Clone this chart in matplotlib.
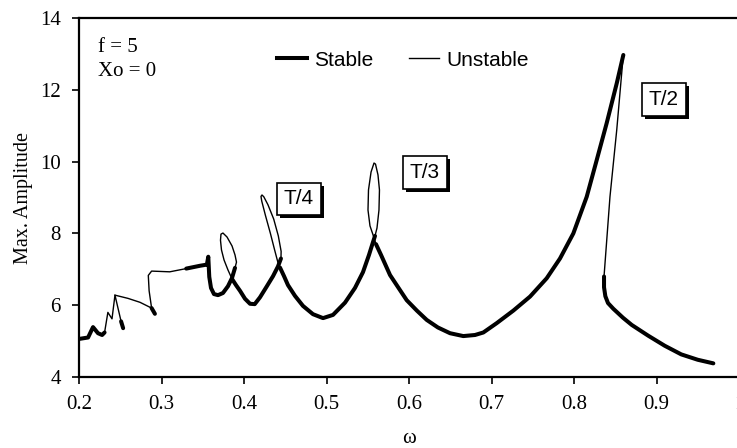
import matplotlib
matplotlib.use("Agg")
import matplotlib.pyplot as plt
import matplotlib.patheffects as pe
from matplotlib.lines import Line2D

# branches of the response curve (omega, max amplitude)
# stable = thick, unstable = thin
s1_w = [0.200, 0.211, 0.217, 0.223, 0.228, 0.231]
s1_a = [5.06, 5.10, 5.39, 5.22, 5.17, 5.24]

u1_w = [0.231, 0.235, 0.240, 0.2436, 0.2510]
u1_a = [5.24, 5.80, 5.62, 6.28, 5.55]
s1b_w = [0.2510, 0.2535]
s1b_a = [5.55, 5.36]

u2_w = [0.2436, 0.2594, 0.2740, 0.2880]
u2_a = [6.28, 6.19, 6.08, 5.92]
s2b_w = [0.2880, 0.2920]
s2b_a = [5.92, 5.76]

u3_w = [0.2880, 0.2850, 0.2840, 0.2880, 0.3100, 0.3300]
u3_a = [5.92, 6.40, 6.83, 6.95, 6.93, 7.02]

s2_w = [0.3300, 0.3470, 0.3550, 0.3567, 0.3579, 0.3600, 0.3636, 0.3685,
        0.3745, 0.3806, 0.3855, 0.3891]
s2_a = [7.02, 7.10, 7.13, 7.35, 6.79, 6.48, 6.31, 6.28,
        6.34, 6.53, 6.76, 7.04]

u4_w = [0.3891, 0.3909, 0.3891, 0.3855, 0.3794, 0.3745, 0.3721, 0.3715,
        0.3727, 0.3758, 0.3806, 0.3855]
u4_a = [7.04, 7.20, 7.40, 7.65, 7.90, 8.01, 7.98, 7.81,
        7.54, 7.26, 6.98, 6.73]

s3_w = [0.3855, 0.3903, 0.3952, 0.4012, 0.4073, 0.4130, 0.4194, 0.4275,
        0.4352, 0.4412, 0.4448]
s3_a = [6.73, 6.56, 6.40, 6.18, 6.04, 6.03, 6.22, 6.52,
        6.81, 7.08, 7.30]

u5_w = [0.4448, 0.4450, 0.4416, 0.4360, 0.4290, 0.4240, 0.4218, 0.4206,
        0.4215, 0.4260, 0.4320, 0.4370, 0.4410, 0.4436]
u5_a = [7.30, 7.50, 7.93, 8.40, 8.80, 9.02, 9.07, 9.03,
        8.90, 8.50, 8.00, 7.55, 7.20, 7.05]

s4_w = [0.4436, 0.4485, 0.4533, 0.4618, 0.4715, 0.4836, 0.4958, 0.5079,
        0.5224, 0.5345, 0.5442, 0.5515, 0.5564, 0.5588]
s4_a = [7.05, 6.81, 6.56, 6.26, 5.98, 5.75, 5.64, 5.73,
        6.07, 6.48, 6.92, 7.40, 7.76, 7.93]

u6_w = [0.5588, 0.5612, 0.5636, 0.5642, 0.5624, 0.5594, 0.5576, 0.5540,
        0.5509, 0.5503, 0.5527, 0.5564, 0.5600]
u6_a = [7.93, 8.15, 8.65, 9.21, 9.63, 9.93, 9.96, 9.71,
        9.21, 8.65, 8.21, 7.96, 7.70]

s5_w = [0.5600, 0.5661, 0.5770, 0.5891, 0.5972, 0.6095, 0.6215, 0.6350,
        0.6497, 0.6658, 0.6800, 0.6901, 0.7063, 0.7265, 0.7467, 0.7669,
        0.7830, 0.7992, 0.8154, 0.8275, 0.8396, 0.8518, 0.8598]
s5_a = [7.70, 7.40, 6.84, 6.42, 6.14, 5.85, 5.59, 5.38,
        5.22, 5.14, 5.17, 5.24, 5.50, 5.85, 6.24, 6.75,
        7.30, 8.00, 9.02, 10.04, 11.07, 12.18, 12.97]

u7_w = [0.8598, 0.8578, 0.8518, 0.8436, 0.8376, 0.8364]
u7_a = [12.97, 12.46, 10.88, 9.02, 7.17, 6.80]

s6_w = [0.8364, 0.8364, 0.8380, 0.8412, 0.8477, 0.8594, 0.8700, 0.8900,
        0.9100, 0.9300, 0.9500, 0.9689]
s6_a = [6.80, 6.50, 6.25, 6.06, 5.90, 5.65, 5.45, 5.15,
        4.87, 4.63, 4.48, 4.38]

stable = [(s1_w, s1_a), (s1b_w, s1b_a), (s2b_w, s2b_a), (s2_w, s2_a),
          (s3_w, s3_a), (s4_w, s4_a), (s5_w, s5_a), (s6_w, s6_a)]
unstable = [(u1_w, u1_a), (u2_w, u2_a), (u3_w, u3_a), (u4_w, u4_a),
            (u5_w, u5_a), (u6_w, u6_a), (u7_w, u7_a)]

x_ticks = [0.2, 0.3, 0.4, 0.5, 0.6, 0.7, 0.8, 0.9, 1.0]
x_tick_labels = ["0.2", "0.3", "0.4", "0.5", "0.6", "0.7", "0.8", "0.9", "1"]
y_ticks = [4, 6, 8, 10, 12, 14]

period_labels = ["T/4", "T/3", "T/2"]
period_w = [0.4667, 0.6194, 0.9087]
period_a = [8.96, 9.69, 11.74]

serif = "Liberation Serif"
sans = "Liberation Sans"

fig = plt.figure(figsize=(7.37, 4.48), dpi=100)
ax = fig.add_axes([79 / 737, 71 / 448, 660 / 737, 359 / 448])

for w, a in unstable:
    ax.plot(w, a, color="black", lw=1.0, solid_joinstyle="round", zorder=2)
for w, a in stable:
    ax.plot(w, a, color="black", lw=2.9, solid_joinstyle="round",
            solid_capstyle="round", zorder=3)

ax.set_xlim(0.2, 1.0)
ax.set_ylim(4, 14)
ax.set_xticks(x_ticks)
ax.set_xticklabels(x_tick_labels, fontfamily=serif, fontsize=15)
ax.set_yticks(y_ticks)
ax.set_yticklabels([str(v) for v in y_ticks], fontfamily=serif, fontsize=15)
ax.tick_params(direction="out", length=5, width=1.2, pad=8)
for sp in ax.spines.values():
    sp.set_linewidth(1.6)

ax.set_xlabel("ω", fontfamily=serif, fontsize=15, labelpad=11)
ax.set_ylabel("Max. Amplitude", fontfamily=serif, fontsize=14.5, labelpad=5)

ax.text(0.223, 13.05, "f = 5", fontfamily=serif, fontsize=15, va="baseline")
ax.text(0.223, 12.38, "Xo = 0", fontfamily=serif, fontsize=15, va="baseline")

handles = [Line2D([], [], color="black", lw=2.9),
           Line2D([], [], color="black", lw=1.0)]
fig.legend(handles, ["Stable", "Unstable"], loc="center left",
           bbox_to_anchor=(277 / 737, 1 - 60 / 448), ncol=2, frameon=False,
           prop={"family": sans, "size": 15}, handlelength=1.45,
           handletextpad=0.35, columnspacing=1.7, borderpad=0,
           borderaxespad=0)

for lab, w, a in zip(period_labels, period_w, period_a):
    t = ax.text(w, a, lab, ha="center", va="center", fontfamily=sans,
                fontsize=15, color="black", zorder=5,
                bbox=dict(boxstyle="square,pad=0.33", fc="white", ec="black",
                          lw=1.2))
    t.get_bbox_patch().set_path_effects([
        pe.SimplePatchShadow(offset=(2.2, -2.2), shadow_rgbFace="black",
                             alpha=1.0),
        pe.Normal()])

fig.savefig("out.png", dpi=100)
